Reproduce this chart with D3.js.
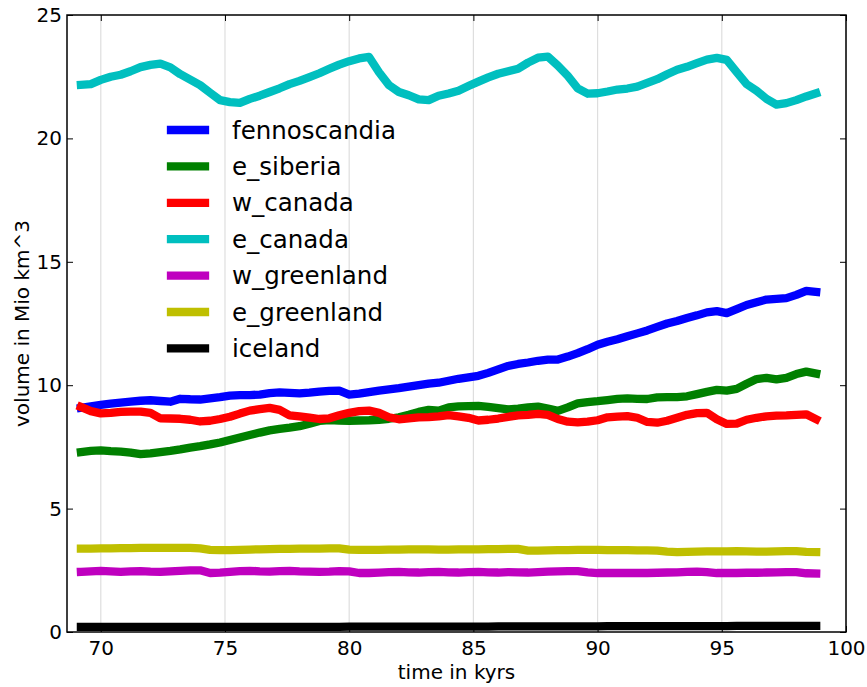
<!DOCTYPE html>
<html>
<head>
<meta charset="utf-8">
<script src="https://cdn.jsdelivr.net/npm/d3@7"></script>
<style>
  html, body { margin: 0; padding: 0; background: #fff; }
  svg { display: block; font-family: "DejaVu Sans", sans-serif; }
</style>
</head>
<body>
<svg id="chart" width="867" height="687"></svg>
<script>
// Time axis (kyrs)
const time = [
  69.2, 69.6, 70.0, 70.4, 70.8, 71.2, 71.6, 72.0, 72.4, 72.8,
  73.2, 73.6, 74.0, 74.4, 74.8, 75.2, 75.6, 76.0, 76.4, 76.8,
  77.2, 77.6, 78.0, 78.4, 78.8, 79.2, 79.6, 80.0, 80.4, 80.8,
  81.2, 81.6, 82.0, 82.4, 82.8, 83.2, 83.6, 84.0, 84.4, 84.8,
  85.2, 85.6, 86.0, 86.4, 86.8, 87.2, 87.6, 88.0, 88.4, 88.8,
  89.2, 89.6, 90.0, 90.4, 90.8, 91.2, 91.6, 92.0, 92.4, 92.8,
  93.2, 93.6, 94.0, 94.4, 94.8, 95.2, 95.6, 96.0, 96.4, 96.8,
  97.2, 97.6, 98.0, 98.4, 98.8
];

// Ice volume per region (Mio km^3)
const fennoscandia = [
  9.08, 9.14, 9.2, 9.25, 9.29, 9.33, 9.37, 9.39, 9.36, 9.33,
  9.45, 9.43, 9.42, 9.47, 9.52, 9.58, 9.6, 9.6, 9.62, 9.68,
  9.71, 9.69, 9.67, 9.7, 9.74, 9.77, 9.78, 9.62, 9.66, 9.72,
  9.78, 9.83, 9.88, 9.94, 10.0, 10.06, 10.1, 10.18, 10.26, 10.32,
  10.38, 10.5, 10.64, 10.78, 10.86, 10.92, 10.99, 11.04, 11.04, 11.16,
  11.3, 11.46, 11.64, 11.76, 11.86, 11.98, 12.1, 12.22, 12.36, 12.5,
  12.6, 12.72, 12.83, 12.95, 13.0, 12.92, 13.08, 13.25, 13.36, 13.47,
  13.5, 13.53, 13.66, 13.82, 13.78
];
const e_siberia = [
  7.29, 7.34, 7.36, 7.33, 7.31, 7.27, 7.21, 7.24, 7.29, 7.34,
  7.4, 7.47, 7.53, 7.6, 7.68, 7.78, 7.88, 7.98, 8.08, 8.17,
  8.23, 8.28, 8.34, 8.44, 8.55, 8.59, 8.57, 8.56, 8.57, 8.58,
  8.6, 8.64, 8.7, 8.8, 8.92, 9.0, 8.97, 9.1, 9.14, 9.15,
  9.16, 9.12, 9.07, 9.02, 9.05, 9.1, 9.13, 9.05, 8.96, 9.1,
  9.26, 9.31, 9.35, 9.4, 9.45, 9.47, 9.45, 9.44, 9.51, 9.52,
  9.52, 9.55, 9.64, 9.73, 9.81, 9.78, 9.85, 10.06, 10.25, 10.3,
  10.24, 10.3, 10.45, 10.55, 10.47
];
const w_canada = [
  9.12, 8.95, 8.86, 8.88, 8.92, 8.93, 8.93, 8.88, 8.66, 8.65,
  8.64, 8.6, 8.53, 8.56, 8.63, 8.72, 8.85, 8.97, 9.03, 9.08,
  9.0, 8.78, 8.74, 8.69, 8.63, 8.66, 8.78, 8.88, 8.95, 8.97,
  8.88, 8.7, 8.62, 8.66, 8.7, 8.71, 8.74, 8.79, 8.74, 8.68,
  8.57, 8.6, 8.65, 8.72, 8.78, 8.8, 8.84, 8.8, 8.63, 8.52,
  8.49, 8.52, 8.58, 8.7, 8.73, 8.75, 8.68, 8.51, 8.48, 8.56,
  8.68, 8.8, 8.87, 8.88, 8.62, 8.43, 8.44, 8.6, 8.68, 8.74,
  8.77, 8.78, 8.8, 8.82, 8.62
];
const e_canada = [
  22.17, 22.2, 22.37, 22.5, 22.58, 22.72, 22.89, 22.98, 23.03, 22.88,
  22.6, 22.38, 22.16, 21.85, 21.55, 21.47, 21.44, 21.6, 21.73, 21.88,
  22.03, 22.2, 22.33, 22.48, 22.64, 22.82, 22.99, 23.13, 23.24, 23.3,
  22.68, 22.16, 21.88, 21.75, 21.58, 21.55, 21.73, 21.82, 21.93, 22.12,
  22.3, 22.47, 22.62, 22.72, 22.82, 23.07, 23.27, 23.31, 22.95, 22.53,
  22.03, 21.81, 21.83, 21.9, 21.98, 22.02, 22.1, 22.25, 22.4, 22.6,
  22.78, 22.9, 23.05, 23.19, 23.26, 23.18, 22.69, 22.2, 21.93, 21.6,
  21.37, 21.43, 21.55, 21.7, 21.83
];
const w_greenland = [
  2.44, 2.46, 2.48, 2.46, 2.44, 2.46, 2.47, 2.45, 2.44, 2.46,
  2.48, 2.5, 2.5, 2.39, 2.41, 2.44, 2.47, 2.48, 2.46, 2.45,
  2.47, 2.48, 2.46, 2.45, 2.44, 2.45, 2.47, 2.46, 2.39, 2.39,
  2.41, 2.43, 2.44, 2.42, 2.41, 2.43, 2.44, 2.42, 2.41, 2.43,
  2.44, 2.42, 2.41, 2.43, 2.42, 2.41, 2.43, 2.45, 2.46, 2.47,
  2.47, 2.42, 2.39, 2.39, 2.39, 2.39, 2.39, 2.39, 2.4, 2.41,
  2.42, 2.44, 2.45, 2.43, 2.39, 2.39, 2.39, 2.4, 2.4, 2.41,
  2.42, 2.43, 2.43, 2.38, 2.37
];
const e_greenland = [
  3.38, 3.38, 3.39, 3.39, 3.4, 3.4, 3.41, 3.41, 3.41, 3.41,
  3.41, 3.41, 3.39, 3.33, 3.32, 3.32, 3.33, 3.34, 3.35, 3.36,
  3.37, 3.37, 3.38, 3.38, 3.38, 3.39, 3.39, 3.34, 3.33, 3.33,
  3.33, 3.34, 3.34, 3.35, 3.35, 3.35, 3.34, 3.34, 3.35, 3.35,
  3.35, 3.36, 3.36, 3.37, 3.37, 3.3, 3.3, 3.31, 3.32, 3.32,
  3.33, 3.33, 3.33, 3.32, 3.32, 3.32, 3.31, 3.31, 3.3, 3.26,
  3.24, 3.25, 3.26, 3.27, 3.27, 3.27, 3.28, 3.27, 3.26, 3.26,
  3.27, 3.28, 3.28, 3.25, 3.24
];
const iceland = [
  0.21, 0.21, 0.21, 0.21, 0.21, 0.21, 0.21, 0.21, 0.21, 0.21,
  0.21, 0.21, 0.21, 0.21, 0.21, 0.21, 0.21, 0.21, 0.21, 0.21,
  0.21, 0.21, 0.21, 0.21, 0.21, 0.21, 0.21, 0.22, 0.22, 0.22,
  0.22, 0.22, 0.22, 0.22, 0.22, 0.22, 0.22, 0.22, 0.22, 0.22,
  0.22, 0.22, 0.23, 0.23, 0.23, 0.23, 0.23, 0.23, 0.23, 0.23,
  0.23, 0.23, 0.23, 0.24, 0.24, 0.24, 0.24, 0.24, 0.24, 0.24,
  0.24, 0.24, 0.24, 0.24, 0.24, 0.24, 0.25, 0.25, 0.25, 0.25,
  0.25, 0.25, 0.25, 0.25, 0.25
];

const seriesNames = ["fennoscandia", "e_siberia", "w_canada", "e_canada",
                     "w_greenland", "e_greenland", "iceland"];
const seriesValues = [fennoscandia, e_siberia, w_canada, e_canada,
                      w_greenland, e_greenland, iceland];
const seriesColors = ["#0000ff", "#008000", "#ff0000", "#00bfbf",
                      "#bf00bf", "#bfbf00", "#000000"];

const xTicks = [70, 75, 80, 85, 90, 95, 100];
const yTicks = [0, 5, 10, 15, 20, 25];
const xDomain = [68.64, 100];
const yDomain = [0, 25];

const xLabel = "time in kyrs";
const yLabel = "volume in Mio km^3";

// Layout
const W = 867, H = 687;
const margin = { left: 67, top: 15, right: 21, bottom: 55 };
const pw = W - margin.left - margin.right;
const ph = H - margin.top - margin.bottom;

const svg = d3.select("#chart");
const g = svg.append("g").attr("transform", `translate(${margin.left},${margin.top})`);

const x = d3.scaleLinear().domain(xDomain).range([0, pw]);
const y = d3.scaleLinear().domain(yDomain).range([ph, 0]);

// vertical grid lines
g.append("g").selectAll("line").data(xTicks).join("line")
  .attr("x1", d => x(d)).attr("x2", d => x(d))
  .attr("y1", 0).attr("y2", ph)
  .attr("stroke", "#dedede").attr("stroke-width", 1.2);

// series lines
svg.append("defs").append("clipPath").attr("id", "plotclip")
  .append("rect").attr("x", 0).attr("y", 0).attr("width", pw).attr("height", ph);

const line = d3.line().x((d, i) => x(time[i])).y(d => y(d));
const lines = g.append("g").attr("clip-path", "url(#plotclip)");
seriesValues.forEach((vals, k) => {
  lines.append("path")
    .datum(vals)
    .attr("d", line)
    .attr("fill", "none")
    .attr("stroke", seriesColors[k])
    .attr("stroke-width", 8.3)
    .attr("stroke-linejoin", "round")
    .attr("stroke-linecap", "square");
});

// axes: ticks point inward on all four sides
const tickLen = 6;
function styleAxis(sel) {
  sel.select(".domain").remove();
  sel.selectAll(".tick line").attr("stroke", "#000").attr("stroke-width", 1);
  sel.selectAll(".tick text").attr("fill", "#000").style("font-size", "20px")
    .style("font-family", "DejaVu Sans, sans-serif");
}

g.append("g").attr("transform", `translate(0,${ph})`)
  .call(d3.axisBottom(x).tickValues(xTicks).tickFormat(d3.format("d"))
    .tickSizeInner(-tickLen).tickSizeOuter(0).tickPadding(9))
  .call(styleAxis);

g.append("g")
  .call(d3.axisTop(x).tickValues(xTicks).tickFormat("")
    .tickSizeInner(-tickLen).tickSizeOuter(0))
  .call(styleAxis);

g.append("g")
  .call(d3.axisLeft(y).tickValues(yTicks).tickFormat(d3.format("d"))
    .tickSizeInner(-tickLen).tickSizeOuter(0).tickPadding(5))
  .call(styleAxis);

g.append("g").attr("transform", `translate(${pw},0)`)
  .call(d3.axisRight(y).tickValues(yTicks).tickFormat("")
    .tickSizeInner(-tickLen).tickSizeOuter(0))
  .call(styleAxis);

// frame
g.append("rect").attr("x", 0).attr("y", 0).attr("width", pw).attr("height", ph)
  .attr("fill", "none").attr("stroke", "#000").attr("stroke-width", 1.5);

// axis labels
svg.append("text")
  .attr("x", margin.left + pw / 2).attr("y", 679)
  .attr("text-anchor", "middle").style("font-size", "20px")
  .text(xLabel);

svg.append("text")
  .attr("transform", `translate(29,${margin.top + ph / 2}) rotate(-90)`)
  .attr("text-anchor", "middle").style("font-size", "20px")
  .text(yLabel);

// legend
const legend = svg.append("g").attr("transform", "translate(167,130)");
const rowGap = 36.4;
seriesNames.forEach((name, k) => {
  const row = legend.append("g").attr("transform", `translate(0,${k * rowGap})`);
  row.append("line")
    .attr("x1", 4).attr("x2", 38).attr("y1", 0).attr("y2", 0)
    .attr("stroke", seriesColors[k]).attr("stroke-width", 8.3)
    .attr("stroke-linecap", "square");
  row.append("text")
    .attr("x", 65).attr("y", 0).attr("dy", "0.35em")
    .style("font-size", "24.5px")
    .text(name);
});
</script>
</body>
</html>
